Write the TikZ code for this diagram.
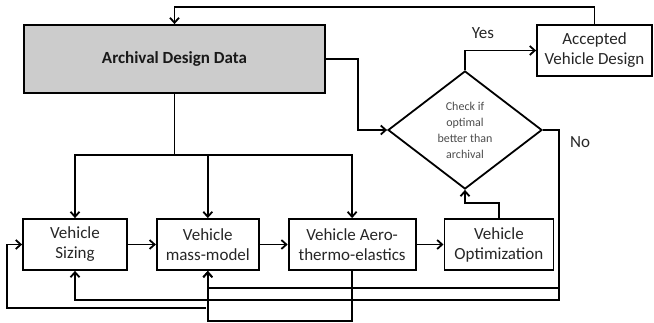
\documentclass[tikz,border=0pt]{standalone}
\usepackage{fontspec}
\setmainfont{Carlito}
\usepackage{tikz}
\usetikzlibrary{positioning}
\usetikzlibrary{shapes.geometric,arrows.meta}

\begin{document}
\begin{tikzpicture}[x=1pt, y=-1pt, line width=1.8pt,
    block/.style = {draw, rectangle, align=center, inner sep=0pt, minimum height=51pt, font=\fontsize{17}{20}\selectfont, text=black!85},
    cond/.style = {draw, diamond, align=center, inner sep=0pt, minimum width=154pt, minimum height=118pt, font=\fontsize{12}{16}\selectfont, text=black!70},
    lbl/.style = {font=\fontsize{17}{20}\selectfont, text=black!85},
    >={Straight Barb[length=5pt,width=9pt]}]
            \useasboundingbox (0,0) rectangle (654,322);
            \node[block, fill=black!20, minimum width=301pt, minimum height=68pt, font=\fontsize{17}{20}\selectfont\bfseries, text=black!90](arch) at (174.5,59){Archival Design Data};
            \node[block, minimum width=115pt](acc) at (594.5,50.5){Accepted\\Vehicle Design};
            \node[cond](chk) at (465,130){Check if\\optimal\\better than\\archival};
            \node[block, minimum width=104pt](sizing) at (75,244.5){Vehicle\\Sizing};
            \node[block, minimum width=102pt](mass)[right =28pt of sizing]{Vehicle\\mass-model};
            \node[block, minimum width=127pt](aero)[right =28pt of mass]{Vehicle Aero-\\thermo-elastics};
            \node[block, minimum width=109pt](opt)[right =27pt of aero]{Vehicle\\Optimization};
            \node[lbl](yes) at (483,33){Yes};
            \node[lbl](no) at (580,142){No};
            \coordinate (split) at (174.5,155);
            \coordinate (nodown) at (559,300);
            \coordinate (nobranch) at (559,288);
            \coordinate (back) at (206,308);
            \coordinate (left) at (7,308);
            \draw (arch.south) -- (split);
            \draw[->] (split) -| (sizing.north);
            \draw[->] (split) -| (aero.north);
            \draw[->] (split -| mass.north) -- (mass.north);
            \draw[->] (arch.east) -- ++(32,0) |- (chk.west);
            \draw[->] (chk.north) |- (acc.west);
            \draw[->] (acc.north) -- ++(0,-17) -| (arch.north);
            \draw[->] (chk.east) -| (nodown) -| (sizing.south);
            \draw[->] (nobranch) -| (mass.south);
            \draw[->] (aero.south) -- ++(0,50) -| (mass.south);
            \draw[->] (back) -- (left) |- (sizing.west);
            \draw[->] (sizing) -- (mass);
            \draw[->] (mass) -- (aero);
            \draw[->] (aero) -- (opt);
            \draw[->] (opt.north) -- ++(0,-15) -| (chk.south);
        \end{tikzpicture}
\end{document}
